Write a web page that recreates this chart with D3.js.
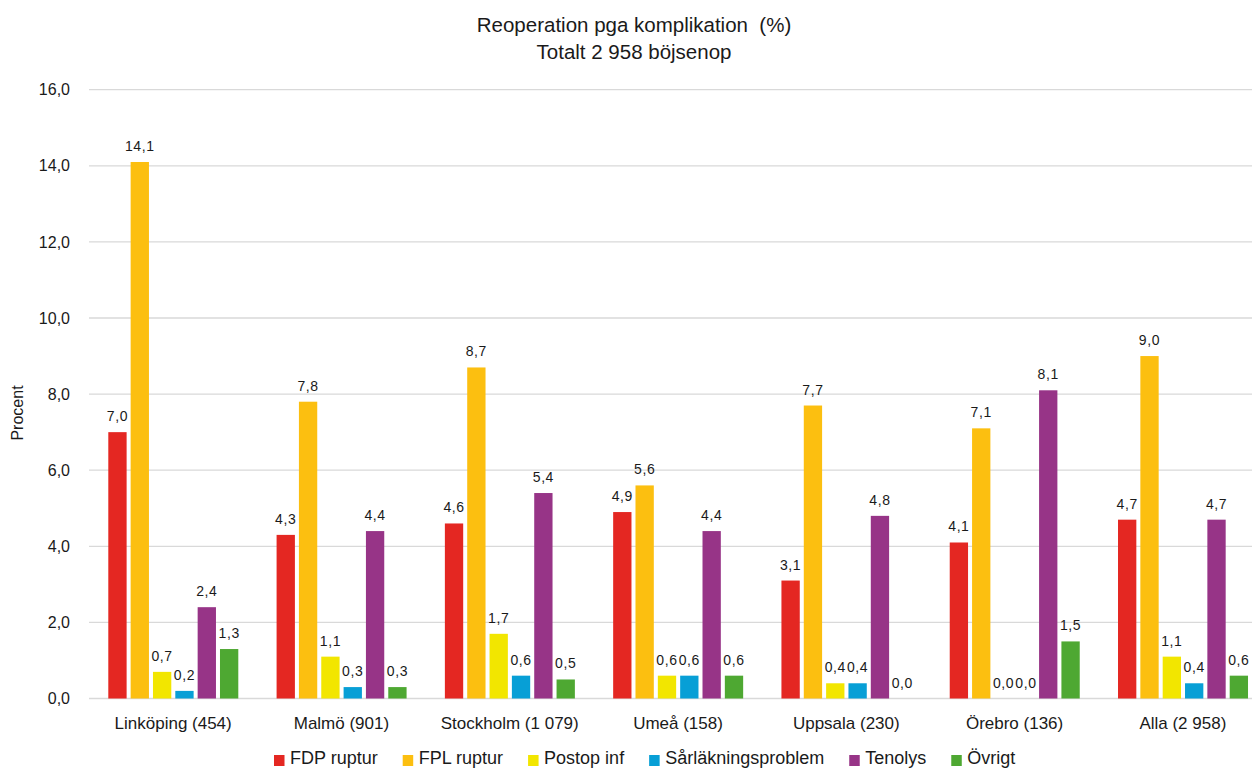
<!DOCTYPE html>
<html>
<head>
<meta charset="utf-8">
<script src="https://cdn.jsdelivr.net/npm/d3@7"></script>
<style>
  html, body { margin: 0; padding: 0; background: #fff; }
  svg { display: block; font-family: "Liberation Sans", Arial, sans-serif; }
</style>
</head>
<body>
<svg id="chart" width="1252" height="769"></svg>
<script>
// Clinics (number of operations) on the x axis
const categories = ["Linköping (454)", "Malmö (901)", "Stockholm (1 079)", "Umeå (158)",
                    "Uppsala (230)", "Örebro (136)", "Alla (2 958)"];
const seriesNames = ["FDP ruptur", "FPL ruptur", "Postop inf", "Sårläkningsproblem", "Tenolys", "Övrigt"];
const seriesColors = ["#E42722", "#FCBF10", "#F2E600", "#079FD6", "#973487", "#4EA832"];

// Reoperation share (%) per clinic, one array per complication type
const fdpRuptur   = [7.0, 4.3, 4.6, 4.9, 3.1, 4.1, 4.7];
const fplRuptur   = [14.1, 7.8, 8.7, 5.6, 7.7, 7.1, 9.0];
const postopInf   = [0.7, 1.1, 1.7, 0.6, 0.4, 0.0, 1.1];
const sarlakning  = [0.2, 0.3, 0.6, 0.6, 0.4, 0.0, 0.4];
const tenolys     = [2.4, 4.4, 5.4, 4.4, 4.8, 8.1, 4.7];
const ovrigt      = [1.3, 0.3, 0.5, 0.6, 0.0, 1.5, 0.6];
const seriesValues = [fdpRuptur, fplRuptur, postopInf, sarlakning, tenolys, ovrigt];

const yTicks = [0, 2, 4, 6, 8, 10, 12, 14, 16];

const fmt = v => d3.format(".1f")(v).replace(".", ",");

const svg = d3.select("#chart");

const x0 = d3.scaleBand().domain(categories).range([89, 1267]).padding(0);
const x1 = d3.scaleBand().domain(seriesNames).range([19.3, 149.3]).paddingInner(0.18).paddingOuter(0);
const y = d3.scaleLinear().domain([0, 16]).range([698.5, 89.7]);

// Horizontal gridlines
svg.append("g")
  .selectAll("line")
  .data(yTicks)
  .join("line")
  .attr("x1", 89).attr("x2", 1252)
  .attr("y1", d => y(d)).attr("y2", d => y(d))
  .attr("stroke", "#d9d9d9")
  .attr("stroke-width", 1.3);

// Y axis tick labels
const yAxis = d3.axisLeft(y).tickValues(yTicks).tickFormat(fmt).tickSize(0).tickPadding(0);
svg.append("g")
  .attr("transform", "translate(70,0)")
  .call(yAxis)
  .call(g => g.select(".domain").remove())
  .call(g => g.selectAll("text")
    .attr("font-size", 16)
    .attr("font-family", "'Liberation Sans', Arial, sans-serif")
    .attr("fill", "#1a1a1a"));

// Y axis title
svg.append("text")
  .attr("transform", "translate(23,413) rotate(-90)")
  .attr("text-anchor", "middle")
  .attr("font-size", 16)
  .attr("fill", "#1a1a1a")
  .text("Procent");

// X axis category labels
const xAxis = d3.axisBottom(x0).tickSize(0).tickPadding(0);
svg.append("g")
  .attr("transform", "translate(0,717)")
  .call(xAxis)
  .call(g => g.select(".domain").remove())
  .call(g => g.selectAll("text")
    .attr("font-size", 17)
    .attr("font-family", "'Liberation Sans', Arial, sans-serif")
    .attr("fill", "#1a1a1a"));

// Bars and value labels
const rows = categories.map((c, i) => ({
  cat: c,
  vals: seriesNames.map((s, j) => ({ s, j, v: seriesValues[j][i] }))
}));

const groups = svg.append("g")
  .selectAll("g")
  .data(rows)
  .join("g")
  .attr("transform", d => `translate(${x0(d.cat)},0)`);

groups.selectAll("rect")
  .data(d => d.vals)
  .join("rect")
  .attr("x", d => x1(d.s))
  .attr("width", x1.bandwidth())
  .attr("y", d => y(d.v))
  .attr("height", d => y(0) - y(d.v))
  .attr("fill", d => seriesColors[d.j]);

groups.selectAll("text")
  .data(d => d.vals)
  .join("text")
  .attr("x", d => x1(d.s) + x1.bandwidth() / 2)
  .attr("y", d => y(d.v) - 11)
  .attr("text-anchor", "middle")
  .attr("font-size", 14)
  .attr("letter-spacing", 0.6)
  .attr("fill", "#1a1a1a")
  .text(d => fmt(d.v));

// Title
const title = svg.append("text")
  .attr("text-anchor", "middle")
  .attr("font-size", 20.5)
  .attr("fill", "#1a1a1a")
  .attr("xml:space", "preserve");
title.append("tspan").attr("x", 634).attr("y", 32).text("Reoperation pga komplikation  (%)");
title.append("tspan").attr("x", 634).attr("y", 59).text("Totalt 2 958 böjsenop");

// Legend
const legend = svg.append("g").attr("transform", "translate(274,0)");
let lx = 0;
seriesNames.forEach((name, j) => {
  const item = legend.append("g").attr("transform", `translate(${lx},0)`);
  item.append("rect")
    .attr("x", 0).attr("y", 755)
    .attr("width", 10.5).attr("height", 11)
    .attr("fill", seriesColors[j]);
  const t = item.append("text")
    .attr("x", 16).attr("y", 764)
    .attr("font-size", 18)
    .attr("fill", "#1a1a1a")
    .text(name);
  lx += 16 + t.node().getComputedTextLength() + 25;
});
</script>
</body>
</html>
